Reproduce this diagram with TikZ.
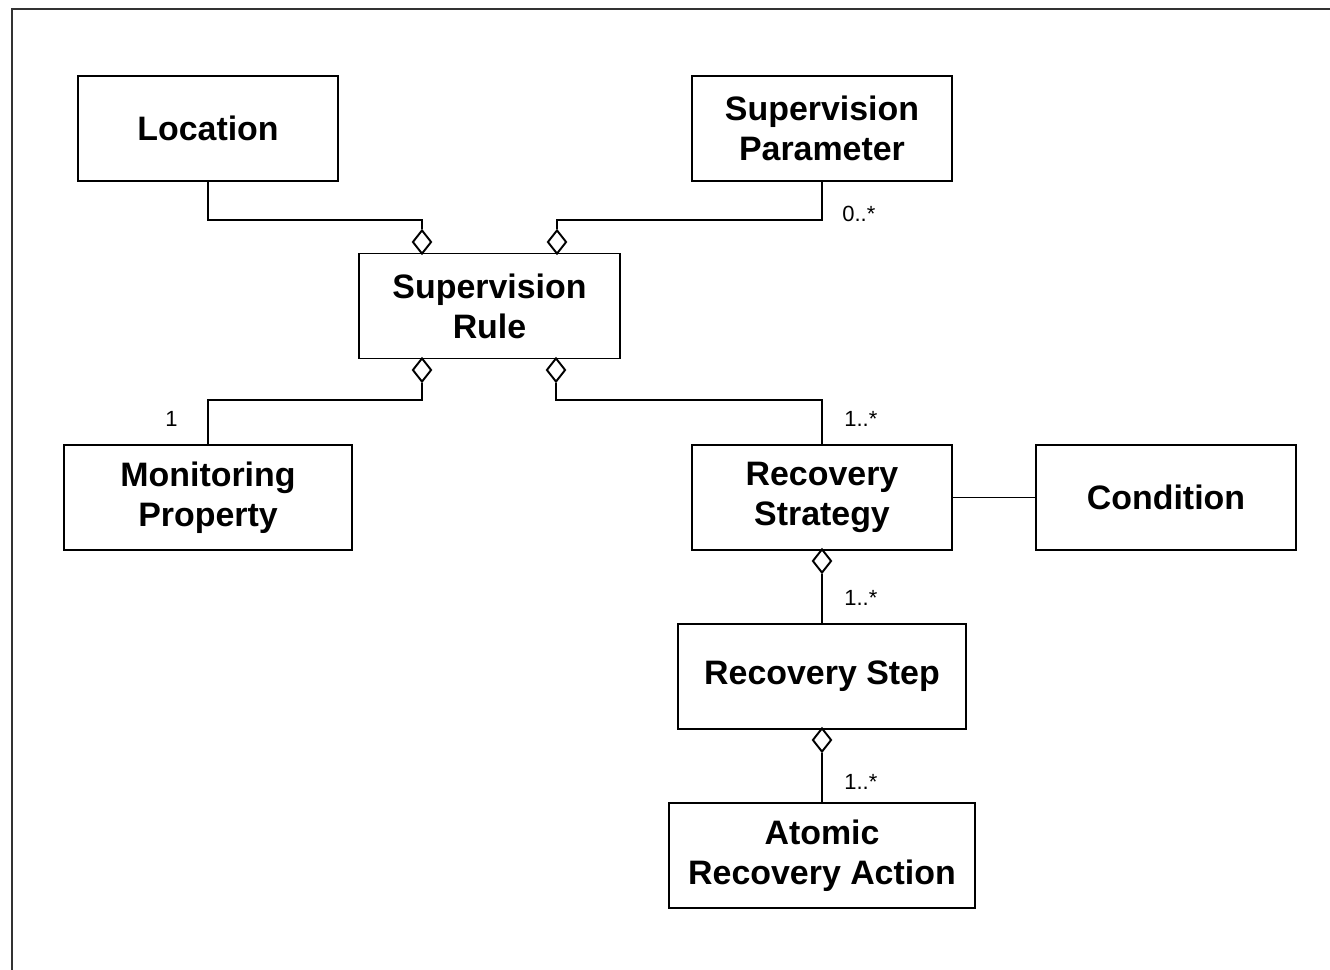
\documentclass[tikz,border=0pt]{standalone}
\usepackage{fontspec}
\setmainfont{Liberation Sans}
\usetikzlibrary{shapes.geometric}
\begin{document}
\begin{tikzpicture}[x=0.02cm,y=-0.02cm,
  cls/.style={draw, line width=1.1pt, align=center, inner sep=0pt,
    minimum height=105*0.02cm, font=\fontsize{19.3}{22.7}\selectfont\bfseries},
  agg/.style={diamond, draw, line width=1.1pt, fill=white, inner sep=0pt,
    minimum width=19*0.02cm, minimum height=24*0.02cm},
  link/.style={line width=1.1pt},
  mult/.style={anchor=west, inner sep=0pt, font=\fontsize{12.5}{14}\selectfont}]
  \useasboundingbox (0,0) rectangle (1330,970);
  % outer frame (only top and left edges are visible)
  \draw[line width=1.6pt, black!80] (12,975) -- (12,9) -- (1335,9);

  % classes
  \node[cls, minimum width=260*0.02cm] (loc)  at (208,128.5) {Location};
  \node[cls, minimum width=260*0.02cm] (sp)   at (822,128.5) {Supervision\\Parameter};
  \node[cls, minimum width=261*0.02cm] (sr)   at (489.5,306) {Supervision\\Rule};
  \node[cls, minimum width=288*0.02cm] (mp)   at (208,497.5) {Monitoring\\Property};
  \node[cls, minimum width=260*0.02cm] (rs)   at (822,497.5) {Recovery\\Strategy};
  \node[cls, minimum width=260*0.02cm] (cond) at (1166,497.5) {Condition};
  \node[cls, minimum width=288*0.02cm] (step) at (822,676.5) {Recovery Step};
  \node[cls, minimum width=306*0.02cm] (ara)  at (822,855.5) {Atomic\\Recovery Action};

  % aggregation diamonds
  \node[agg] (d1) at (422,242) {};
  \node[agg] (d2) at (557,242) {};
  \node[agg] (d3) at (422,370) {};
  \node[agg] (d4) at (556,370) {};
  \node[agg] (d5) at (822,561) {};
  \node[agg] (d6) at (822,740) {};

  % associations
  \draw[link] (loc.south) -- ++(0,38) -| (d1.north);
  \draw[link] (sp.south) -- ++(0,38) -| (d2.north);
  \draw[link] (mp.north) -- ++(0,-44) -| (d3.south);
  \draw[link] (rs.north) -- ++(0,-44) -| (d4.south);
  \draw[link] (rs.east) -- (cond.west);
  \draw[link] (d5.south) -- (step.north);
  \draw[link] (d6.south) -- (ara.north);

  % multiplicities
  \node[mult] (m1) at (842,214) {0..*};
  \node[mult] (m2) at (165,419) {1};
  \node[mult] (m3) at (844,419) {1..*};
  \node[mult] (m4) at (844,598) {1..*};
  \node[mult] (m5) at (844,782) {1..*};
\end{tikzpicture}
\end{document}
